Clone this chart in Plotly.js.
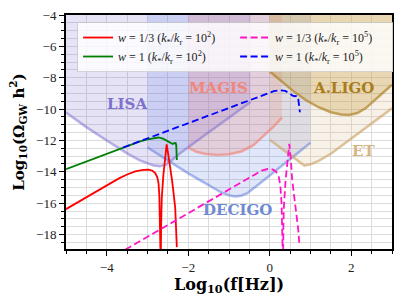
<!DOCTYPE html>
<html>
<head>
<meta charset="utf-8">
<script src="https://cdn.plot.ly/plotly-3.0.1.min.js"></script>
<style>html,body{margin:0;padding:0;background:#fff;}#chart{width:407px;height:303px;}</style>
</head>
<body>
<div id="chart"></div>
<script>
// ---- detector sensitivity curves (log10 f, log10 Omega h^2) ----
const lisaX = [-5, -4.5, -4, -3.5, -3.2, -3.0, -2.85, -2.7, -2.55, -2.4, -2.2, -1.8, -1.4, -1.0, -0.47];
const lisaY = [-10.22, -11.15, -12.0, -12.82, -13.25, -13.47, -13.6, -13.65, -13.55, -13.25, -12.82, -12.05, -11.28, -10.52, -9.55];
const decigoX = [-3.0, -2.5, -2.0, -1.5, -1.2, -1.0, -0.85, -0.7, -0.55, -0.3, 0.0, 0.5, 1.0];
const decigoY = [-12.45, -13.3, -14.1, -14.85, -15.3, -15.5, -15.57, -15.52, -15.36, -14.85, -14.22, -13.2, -12.15];
const magisX = [-2.0, -1.8, -1.6, -1.3, -1.0, -0.7, -0.4, -0.1, 0.1, 0.3];
const magisY = [-12.45, -12.72, -12.85, -12.93, -12.88, -12.7, -12.3, -11.6, -11.1, -10.55];
const ligoX = [0.0, 0.3, 0.6, 0.9, 1.2, 1.5, 1.75, 1.95, 2.15, 2.35, 2.6, 2.8, 3.0];
const ligoY = [-7.6, -8.25, -8.9, -9.45, -9.88, -10.2, -10.35, -10.38, -10.25, -9.95, -9.35, -8.9, -8.45];
const etX = [0.0, 0.3, 0.6, 0.85, 1.0, 1.2, 1.5, 2.0, 2.5, 3.0];
const etY = [-11.95, -12.55, -13.15, -13.6, -13.52, -13.3, -12.85, -11.9, -10.95, -9.95];

// ---- GW spectra ----
const redX = [-5, -4.5, -4, -3.7, -3.5, -3.3, -3.1, -2.97, -2.88, -2.81, -2.76, -2.73, -2.71, -2.70, -2.695, -2.69, -2.675, -2.665, -2.65, -2.61, -2.57, -2.53, -2.49, -2.44, -2.4, -2.36, -2.32, -2.28];
const redY = [-16.38, -15.62, -14.85, -14.42, -14.17, -13.97, -13.87, -13.86, -13.93, -14.08, -14.35, -14.72, -15.5, -16.5, -18.0, -20, -20, -17.4, -15.68, -14.19, -13.1, -12.25, -12.9, -13.66, -14.5, -15.36, -16.3, -18.8];
const greenX = [-5, -4, -3.5, -3.2, -3.0, -2.85, -2.73, -2.62, -2.52, -2.43, -2.38, -2.34, -2.31, -2.295, -2.285, -2.28];
const greenY = [-13.83, -12.85, -12.36, -12.08, -11.93, -11.84, -11.81, -11.88, -12.02, -12.18, -12.22, -12.17, -12.16, -12.3, -12.6, -13.24];
const magX = [-3.55, -3, -2.5, -2, -1.5, -1, -0.6, -0.35, -0.2, -0.05, 0.07, 0.15, 0.22, 0.26, 0.29, 0.305, 0.315, 0.325, 0.335, 0.345, 0.39, 0.44, 0.48, 0.52, 0.55, 0.63, 0.70, 0.73];
const magY = [-18.97, -18.15, -17.4, -16.65, -15.9, -15.17, -14.55, -14.15, -13.92, -13.82, -13.85, -13.97, -14.3, -14.9, -16.0, -17.3, -20, -20, -17.5, -16.3, -14.5, -13.1, -12.22, -13.3, -14.5, -16.2, -17.7, -18.75];
const blueX = [-3.6, -3, -2, -1, -0.4, -0.1, 0.1, 0.25, 0.38, 0.48, 0.56, 0.62, 0.67, 0.7, 0.72, 0.74];
const blueY = [-12.45, -11.87, -10.9, -9.95, -9.38, -9.06, -8.86, -8.8, -8.84, -8.98, -9.14, -9.18, -9.16, -9.35, -9.7, -10.2];

// ---- labels ----
const seriesNames = [
  '<i>w</i> = 1/3 (<i>k</i><sub>*</sub>/<i>k</i><sub>r</sub> = 10<sup>2</sup>)',
  '<i>w</i> = 1/3 (<i>k</i><sub>*</sub>/<i>k</i><sub>r</sub> = 10<sup>5</sup>)',
  '<i>w</i> = 1 (<i>k</i><sub>*</sub>/<i>k</i><sub>r</sub> = 10<sup>2</sup>)',
  '<i>w</i> = 1 (<i>k</i><sub>*</sub>/<i>k</i><sub>r</sub> = 10<sup>5</sup>)'
];
const detNames = ['LISA', 'MAGIS', 'A.LIGO', 'ET', 'DECIGO'];
const detLabelX = [-3.5, -1.25, 1.8, 2.31, -0.79];
const detLabelY = [-9.7, -8.67, -8.67, -12.7, -16.42];
const detLabelColor = ['#7d70cf', '#f0877a', '#a97c1c', '#d6b585', '#6e88d2'];

const TOP = -4;
function fillTrace(xs, ys, color) {
  return {x: xs.concat([xs[xs.length-1], xs[0]]), y: ys.concat([TOP, TOP]), mode: 'lines', fill: 'toself',
          fillcolor: color, line: {width: 0}, hoverinfo: 'skip', showlegend: false};
}
function lineTrace(xs, ys, color, w) {
  return {x: xs, y: ys, mode: 'lines', line: {color: color, width: w}, hoverinfo: 'skip', showlegend: false};
}

const traces = [
  fillTrace(lisaX, lisaY, 'rgba(106,90,205,0.17)'),
  fillTrace(decigoX, decigoY, 'rgba(65,105,225,0.16)'),
  fillTrace(magisX, magisY, 'rgba(240,110,100,0.2)'),
  fillTrace(etX, etY, 'rgba(222,184,135,0.2)'),
  fillTrace(ligoX, ligoY, 'rgba(184,134,11,0.24)'),
  lineTrace(lisaX, lisaY, 'rgba(120,105,205,0.5)', 2.5),
  lineTrace(decigoX, decigoY, 'rgba(90,120,215,0.5)', 2.5),
  lineTrace(magisX, magisY, 'rgba(240,125,110,0.6)', 2.5),
  lineTrace(etX, etY, 'rgba(205,165,105,0.65)', 2.5),
  lineTrace(ligoX, ligoY, 'rgba(175,130,40,0.7)', 2.5),
  {x: redX, y: redY, mode: 'lines', name: seriesNames[0], line: {color: '#ff0000', width: 1.8}},
  {x: magX, y: magY, mode: 'lines', name: seriesNames[1], line: {color: '#ff14c8', width: 1.8, dash: '7px,3.5px'}},
  {x: greenX, y: greenY, mode: 'lines', name: seriesNames[2], line: {color: '#008000', width: 1.8}},
  {x: blueX, y: blueY, mode: 'lines', name: seriesNames[3], line: {color: '#0000ff', width: 1.8, dash: '7px,3.5px'}}
];

const annotations = detNames.map((t, i) => ({
  x: detLabelX[i], y: detLabelY[i], text: '<b>' + t + '</b>', showarrow: false,
  font: {family: 'DejaVu Serif', size: 15, color: detLabelColor[i]}, xanchor: 'center', yanchor: 'middle'
}));

const axisCommon = {
  showline: true, mirror: true, linecolor: '#000', linewidth: 2,
  ticks: 'outside', ticklen: 5, tickwidth: 1, tickcolor: '#000',
  showgrid: true, gridcolor: '#dcdcdc', gridwidth: 1, zeroline: false,
  tickfont: {family: 'Liberation Serif', size: 13, color: '#222'},
  minor: {dtick: 0.5, ticks: 'outside', ticklen: 3, tickwidth: 1, tickcolor: '#000', showgrid: true, gridcolor: '#dcdcdc', gridwidth: 1}
};

const layout = {
  width: 407, height: 303,
  margin: {l: 66, r: 15, t: 15, b: 54},
  paper_bgcolor: '#fff', plot_bgcolor: '#fff',
  showlegend: true,
  xaxis: Object.assign({}, axisCommon, {range: [-5, 3], dtick: 2, tick0: 0,
    title: {text: '<b>Log<sub>10</sub>(f[Hz])</b>', font: {family: 'DejaVu Serif', size: 16, color: '#000'}, standoff: 3}}),
  yaxis: Object.assign({}, axisCommon, {range: [-18.92, -4], dtick: 2, tick0: 0,
    title: {text: '<b>Log<sub>10</sub>(Ω<sub>GW</sub> h<sup>2</sup>)</b>', font: {family: 'DejaVu Serif', size: 15, color: '#000'}, standoff: 8}}),
  legend: {x: 0.034, y: 0.97, xanchor: 'left', yanchor: 'top', orientation: 'h',
    entrywidth: 112, entrywidthmode: 'pixels', itemwidth: 30,
    bgcolor: 'rgba(255,255,255,0.82)', bordercolor: 'rgba(200,200,200,0.8)', borderwidth: 1,
    font: {family: 'Liberation Serif', size: 12, color: '#222'}},
  annotations: annotations
};

Plotly.newPlot('chart', traces, layout, {displayModeBar: false, staticPlot: true});
</script>
</body>
</html>
